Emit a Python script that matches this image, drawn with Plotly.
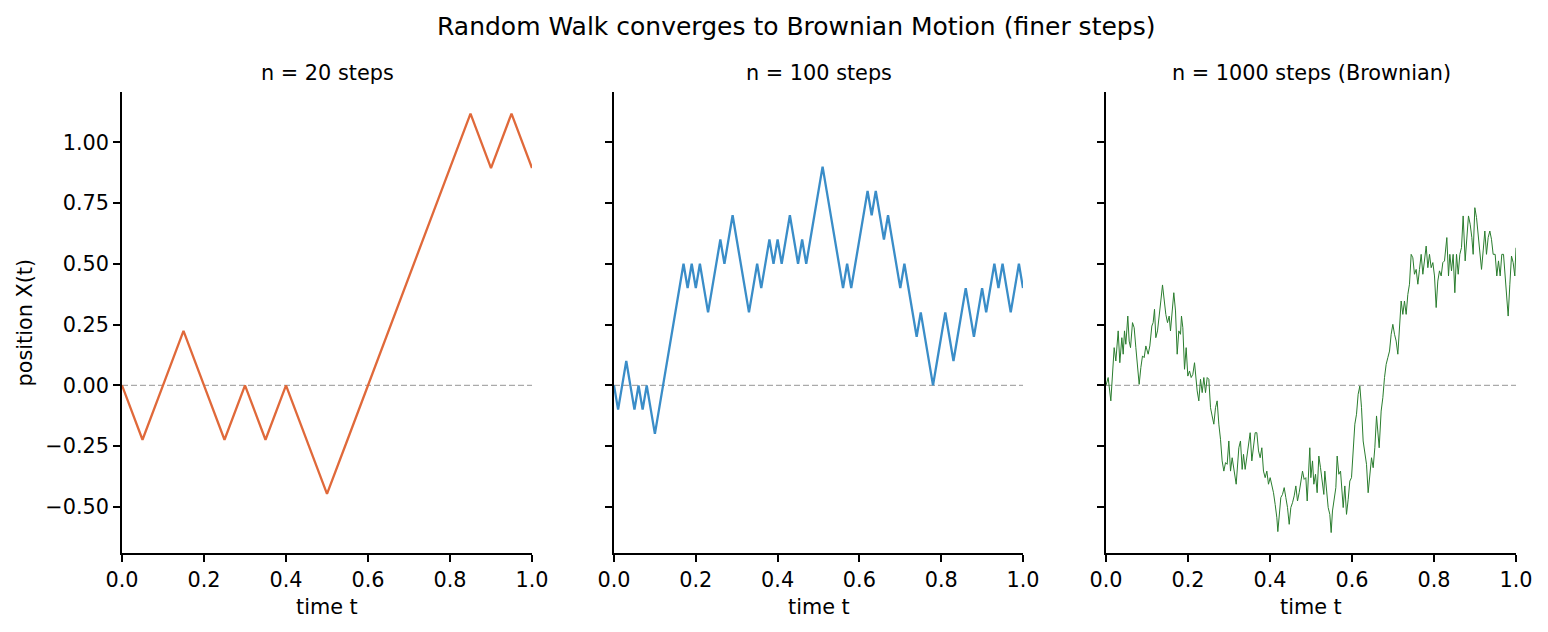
import plotly.graph_objects as go

# ---------------- data ----------------
# n = 20 steps (step size 1/sqrt(20))
walk20_t = [0.00, 0.05, 0.10, 0.15, 0.20, 0.25, 0.30, 0.35, 0.40, 0.45, 0.50,
            0.55, 0.60, 0.65, 0.70, 0.75, 0.80, 0.85, 0.90, 0.95, 1.00]
walk20_x = [0.000, -0.224, 0.000, 0.224, 0.000, -0.224, 0.000, -0.224, 0.000, -0.224, -0.447,
            -0.224, 0.000, 0.224, 0.447, 0.671, 0.894, 1.118, 0.894, 1.118, 0.894]

# n = 100 steps (step size 0.1, dt = 0.01)
walk100_x = [0.0, -0.1, 0.0, 0.1, 0.0, -0.1, 0.0, -0.1, 0.0, -0.1,
             -0.2, -0.1, 0.0, 0.1, 0.2, 0.3, 0.4, 0.5, 0.4, 0.5,
             0.4, 0.5, 0.4, 0.3, 0.4, 0.5, 0.6, 0.5, 0.6, 0.7,
             0.6, 0.5, 0.4, 0.3, 0.4, 0.5, 0.4, 0.5, 0.6, 0.5,
             0.6, 0.5, 0.6, 0.7, 0.6, 0.5, 0.6, 0.5, 0.6, 0.7,
             0.8, 0.9, 0.8, 0.7, 0.6, 0.5, 0.4, 0.5, 0.4, 0.5,
             0.6, 0.7, 0.8, 0.7, 0.8, 0.7, 0.6, 0.7, 0.6, 0.5,
             0.4, 0.5, 0.4, 0.3, 0.2, 0.3, 0.2, 0.1, 0.0, 0.1,
             0.2, 0.3, 0.2, 0.1, 0.2, 0.3, 0.4, 0.3, 0.2, 0.3,
             0.4, 0.3, 0.4, 0.5, 0.4, 0.5, 0.4, 0.3, 0.4, 0.5,
             0.4]
walk100_t = [i / 100 for i in range(len(walk100_x))]

# n = 1000 steps (Brownian) - path
bm_t = [0.0000, 0.0053, 0.0118, 0.0199, 0.0240, 0.0297, 0.0337, 0.0386, 0.0419, 0.0451,
        0.0484, 0.0532, 0.0565, 0.0598, 0.0646, 0.0687, 0.0728, 0.0768, 0.0809, 0.0850,
        0.0890, 0.0931, 0.0972, 0.1028, 0.1069, 0.1118, 0.1150, 0.1183, 0.1215, 0.1256,
        0.1297, 0.1337, 0.1378, 0.1419, 0.1459, 0.1500, 0.1541, 0.1573, 0.1614, 0.1654,
        0.1695, 0.1736, 0.1776, 0.1817, 0.1841, 0.1874, 0.1915, 0.1955, 0.1996, 0.2037,
        0.2077, 0.2118, 0.2159, 0.2191, 0.2224, 0.2264, 0.2305, 0.2346, 0.2386, 0.2427,
        0.2468, 0.2508, 0.2549, 0.2589, 0.2630, 0.2671, 0.2711, 0.2752, 0.2793, 0.2833,
        0.2874, 0.2915, 0.2955, 0.2996, 0.3037, 0.3077, 0.3118, 0.3175, 0.3240, 0.3280,
        0.3321, 0.3354, 0.3394, 0.3435, 0.3476, 0.3516, 0.3557, 0.3598, 0.3638, 0.3679,
        0.3720, 0.3760, 0.3801, 0.3841, 0.3882, 0.3923, 0.3963, 0.4004, 0.4045, 0.4085,
        0.4126, 0.4167, 0.4191, 0.4224, 0.4264, 0.4305, 0.4346, 0.4386, 0.4427, 0.4468,
        0.4508, 0.4549, 0.4590, 0.4630, 0.4671, 0.4711, 0.4752, 0.4793, 0.4833, 0.4874,
        0.4907, 0.4939, 0.4971, 0.4996, 0.5037, 0.5069, 0.5110, 0.5150, 0.5191, 0.5232,
        0.5272, 0.5313, 0.5337, 0.5378, 0.5419, 0.5459, 0.5492, 0.5524, 0.5565, 0.5606,
        0.5638, 0.5679, 0.5720, 0.5752, 0.5785, 0.5825, 0.5866, 0.5907, 0.5947, 0.5988,
        0.6028, 0.6069, 0.6110, 0.6150, 0.6191, 0.6232, 0.6272, 0.6313, 0.6354, 0.6394,
        0.6435, 0.6476, 0.6516, 0.6557, 0.6598, 0.6630, 0.6663, 0.6711, 0.6752, 0.6793,
        0.6833, 0.6874, 0.6915, 0.6955, 0.6996, 0.7037, 0.7077, 0.7118, 0.7159, 0.7199,
        0.7240, 0.7280, 0.7321, 0.7362, 0.7402, 0.7443, 0.7484, 0.7524, 0.7565, 0.7606,
        0.7646, 0.7687, 0.7728, 0.7768, 0.7809, 0.7850, 0.7890, 0.7931, 0.7972, 0.8012,
        0.8053, 0.8093, 0.8134, 0.8175, 0.8215, 0.8256, 0.8272, 0.8313, 0.8354, 0.8386,
        0.8427, 0.8467, 0.8508, 0.8549, 0.8590, 0.8630, 0.8671, 0.8711, 0.8760, 0.8801,
        0.8841, 0.8882, 0.8923, 0.8955, 0.8996, 0.9037, 0.9077, 0.9118, 0.9159, 0.9199,
        0.9240, 0.9280, 0.9321, 0.9362, 0.9402, 0.9443, 0.9492, 0.9532, 0.9573, 0.9614,
        0.9654, 0.9695, 0.9736, 0.9776, 0.9809, 0.9850, 0.9890, 0.9931, 0.9971, 1.0000]
bm_x = [0.000, 0.032, -0.064, 0.155, 0.100, 0.224, 0.093, 0.196, 0.128, 0.224,
        0.169, 0.285, 0.182, 0.155, 0.258, 0.237, 0.155, 0.093, 0.004, 0.073,
        0.121, 0.114, 0.162, 0.128, 0.162, 0.244, 0.258, 0.313, 0.196, 0.224,
        0.278, 0.347, 0.413, 0.347, 0.292, 0.258, 0.285, 0.224, 0.292, 0.381,
        0.306, 0.128, 0.224, 0.210, 0.285, 0.237, 0.066, 0.155, 0.038, 0.059,
        0.032, 0.045, 0.093, 0.018, -0.023, -0.064, 0.025, -0.030, 0.032, -0.030,
        0.032, 0.025, -0.092, -0.126, -0.160, -0.092, -0.064, -0.160, -0.222, -0.311,
        -0.353, -0.318, -0.325, -0.229, -0.353, -0.298, -0.353, -0.407, -0.257, -0.229,
        -0.346, -0.284, -0.346, -0.291, -0.229, -0.195, -0.311, -0.257, -0.195, -0.195,
        -0.270, -0.298, -0.257, -0.353, -0.380, -0.353, -0.407, -0.380, -0.407, -0.442,
        -0.490, -0.545, -0.602, -0.531, -0.462, -0.449, -0.421, -0.462, -0.503, -0.572,
        -0.503, -0.483, -0.455, -0.414, -0.476, -0.442, -0.394, -0.353, -0.387, -0.380,
        -0.476, -0.380, -0.257, -0.380, -0.311, -0.407, -0.366, -0.442, -0.291, -0.339,
        -0.407, -0.449, -0.353, -0.421, -0.503, -0.531, -0.606, -0.517, -0.476, -0.421,
        -0.291, -0.366, -0.353, -0.435, -0.503, -0.414, -0.531, -0.469, -0.394, -0.380,
        -0.257, -0.160, -0.119, -0.037, -0.003, -0.092, -0.229, -0.284, -0.325, -0.442,
        -0.353, -0.298, -0.339, -0.257, -0.126, -0.215, -0.257, -0.106, -0.051, 0.032,
        0.086, 0.114, 0.141, 0.210, 0.251, 0.210, 0.182, 0.128, 0.251, 0.347,
        0.292, 0.347, 0.292, 0.374, 0.416, 0.539, 0.525, 0.457, 0.477, 0.416,
        0.477, 0.539, 0.457, 0.519, 0.573, 0.484, 0.539, 0.484, 0.505, 0.450,
        0.320, 0.429, 0.471, 0.450, 0.505, 0.512, 0.539, 0.608, 0.450, 0.539,
        0.471, 0.539, 0.381, 0.539, 0.457, 0.539, 0.567, 0.697, 0.512, 0.621,
        0.697, 0.663, 0.608, 0.539, 0.731, 0.690, 0.608, 0.546, 0.477, 0.553,
        0.635, 0.539, 0.608, 0.635, 0.601, 0.539, 0.539, 0.450, 0.512, 0.450,
        0.539, 0.539, 0.457, 0.374, 0.285, 0.416, 0.532, 0.505, 0.450, 0.566]

panel_titles = ["n = 20 steps", "n = 100 steps", "n = 1000 steps (Brownian)"]
y_tick_vals = [-0.5, -0.25, 0.0, 0.25, 0.5, 0.75, 1.0]
y_tick_text = ["\u22120.50", "\u22120.25", "0.00", "0.25", "0.50", "0.75", "1.00"]
x_tick_vals = [0.0, 0.2, 0.4, 0.6, 0.8, 1.0]
x_tick_text = ["0.0", "0.2", "0.4", "0.6", "0.8", "1.0"]

# ---------------- layout geometry ----------------
W, H = 1548, 632
FONT = "DejaVu Sans"
panels_px = [(122, 532), (614, 1023), (1106, 1516)]
top_px, bot_px = 92, 553
y_dom = [1 - bot_px / H, 1 - top_px / H]
y_range = [-0.690, 1.207]

colors = ["#E0693A", "#3A8DC8", "#2A7D2E"]
widths = [2.3, 2.3, 1.0]
series = [(walk20_t, walk20_x), (walk100_t, walk100_x), (bm_t, bm_x)]

fig = go.Figure()
for i, ((tt, xx), c, w) in enumerate(zip(series, colors, widths)):
    ax = "" if i == 0 else str(i + 1)
    fig.add_trace(go.Scatter(x=tt, y=xx, mode="lines", line=dict(color=c, width=w),
                             xaxis="x" + ax, yaxis="y" + ax, showlegend=False,
                             hoverinfo="skip"))

axis_common = dict(showgrid=False, zeroline=False, showline=True, linecolor="black",
                   linewidth=1.6, ticks="outside", ticklen=7, tickwidth=1.6,
                   tickcolor="black", automargin=False,
                   tickfont=dict(family=FONT, size=20.8, color="black"))

layout = dict(width=W, height=H, margin=dict(l=0, r=0, t=0, b=0, autoexpand=False),
              paper_bgcolor="white", plot_bgcolor="white", showlegend=False)
for i, (l, r) in enumerate(panels_px):
    ax = "" if i == 0 else str(i + 1)
    layout["xaxis" + ax] = dict(domain=[l / W, r / W], range=[0, 1], anchor="y" + ax,
                                tickvals=x_tick_vals, ticktext=x_tick_text, **axis_common)
    yax = dict(domain=y_dom, range=y_range, anchor="x" + ax,
               tickvals=y_tick_vals, ticktext=y_tick_text, **axis_common)
    if i > 0:
        yax["showticklabels"] = False
        yax["matches"] = "y"
    layout["yaxis" + ax] = yax
fig.update_layout(**layout)

# zero reference lines
for i in range(3):
    ax = "" if i == 0 else str(i + 1)
    fig.add_shape(type="line", xref="x" + ax + " domain", yref="y" + ax,
                  x0=0, x1=1, y0=0, y1=0,
                  line=dict(color="#AAAAAA", width=1.3, dash="6px,3px"), layer="below")

ann = []
ann.append(dict(text="Random Walk converges to Brownian Motion (finer steps)",
                x=796 / W, y=1 - 26 / H, xref="paper", yref="paper", showarrow=False,
                font=dict(family=FONT, size=25, color="black"),
                xanchor="center", yanchor="middle"))
for (l, r), t in zip(panels_px, panel_titles):
    ann.append(dict(text=t, x=(l + r) / 2 / W, y=1 - 73 / H, xref="paper", yref="paper",
                    showarrow=False, font=dict(family=FONT, size=20.8, color="black"),
                    xanchor="center", yanchor="middle"))
    ann.append(dict(text="time t", x=(l + r) / 2 / W, y=1 - 607 / H, xref="paper",
                    yref="paper", showarrow=False,
                    font=dict(family=FONT, size=20.8, color="black"),
                    xanchor="center", yanchor="middle"))
ann.append(dict(text="position X(t)", x=24 / W, y=1 - (top_px + bot_px) / 2 / H,
                xref="paper", yref="paper", showarrow=False, textangle=-90,
                font=dict(family=FONT, size=20.8, color="black"),
                xanchor="center", yanchor="middle"))
fig.update_layout(annotations=ann)

fig.write_html("out.html")
